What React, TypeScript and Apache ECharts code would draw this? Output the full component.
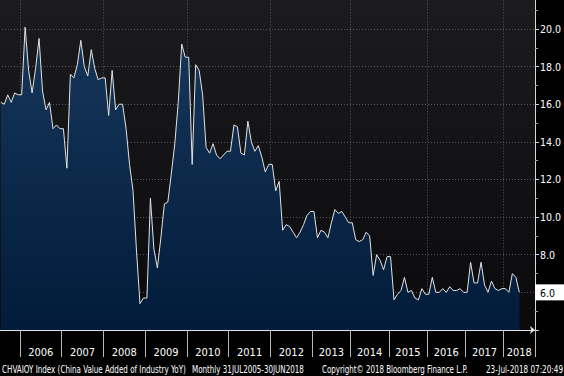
import React, { useEffect, useRef } from 'react';
import * as echarts from 'echarts';

// CHVAIOY Index, monthly YoY %
const v2005 = [16.1, 16.0, 16.5, 16.1, 16.6, 16.5]; // Jul-Dec
const v2006 = [16.5, 20.1, 17.8, 16.6, 17.9, 19.5, 16.7, 15.7, 16.1, 14.7, 14.9, 14.7];
const v2007 = [14.7, 12.6, 17.6, 17.4, 18.1, 19.4, 18.0, 17.5, 18.9, 17.9, 17.3, 17.4];
const v2008 = [17.4, 15.4, 17.8, 15.7, 16.0, 16.0, 14.7, 12.8, 11.4, 8.2, 5.4, 5.7];
const v2009 = [5.7, 11.0, 8.3, 7.3, 8.9, 10.7, 10.8, 12.3, 13.9, 16.1, 19.2, 18.5];
const v2010 = [18.5, 12.8, 18.1, 17.8, 16.5, 13.7, 13.4, 13.9, 13.3, 13.1, 13.3, 13.5];
const v2011 = [13.5, 14.9, 14.8, 13.4, 13.3, 15.1, 14.0, 13.5, 13.8, 13.2, 12.4, 12.8];
const v2012 = [12.8, 11.4, 11.9, 9.3, 9.6, 9.5, 9.2, 8.9, 9.2, 9.6, 10.1, 10.3];
const v2013 = [10.3, 8.9, 9.3, 9.2, 8.9, 9.7, 10.4, 10.2, 10.3, 10.0, 9.7]; // Feb-Dec
const v2014 = [9.7, 8.8, 8.7, 8.8, 9.2, 9.0, 6.9, 8.0, 7.7, 7.2, 7.9];
const v2015 = [7.9, 5.6, 5.9, 6.1, 6.8, 6.0, 6.1, 5.7, 5.6, 6.2, 5.9];
const v2016 = [5.9, 6.8, 6.0, 6.0, 6.2, 6.0, 6.3, 6.1, 6.1, 6.2, 6.0];
const v2017 = [6.0, 7.6, 6.5, 6.5, 7.6, 6.4, 6.0, 6.6, 6.2, 6.1, 6.2];
const v2018 = [6.2, 6.0, 7.0, 6.8, 6.0]; // Feb-Jun

const blocks = [
  { year: 2005, first: 7, values: v2005 },
  { year: 2006, first: 1, values: v2006 },
  { year: 2007, first: 1, values: v2007 },
  { year: 2008, first: 1, values: v2008 },
  { year: 2009, first: 1, values: v2009 },
  { year: 2010, first: 1, values: v2010 },
  { year: 2011, first: 1, values: v2011 },
  { year: 2012, first: 1, values: v2012 },
  { year: 2013, first: 2, values: v2013 },
  { year: 2014, first: 2, values: v2014 },
  { year: 2015, first: 2, values: v2015 },
  { year: 2016, first: 2, values: v2016 },
  { year: 2017, first: 2, values: v2017 },
  { year: 2018, first: 2, values: v2018 },
];
const trailingMonths = ['2018-07', '2018-08', '2018-09', '2018-10']; // empty axis room after last obs
const gridYears = [2006, 2008, 2010, 2012, 2014, 2016, 2018];

const footerTexts = [
  { text: 'CHVAIOY Index (China Value Added of Industry YoY)', x: 2, w: 184 },
  { text: 'Monthly 31JUL2005-30JUN2018', x: 192, w: 112 },
  { text: 'Copyright\u00A9 2018 Bloomberg Finance L.P.', x: 322, w: 146 },
  { text: '23-Jul-2018 07:20:49', x: 486, w: 77 },
];

const FONT = '"Liberation Sans Narrow", "Arial Narrow", "DejaVu Sans Condensed", sans-serif';

// the chart div is shifted up/left a little so the plot can start just outside the page
const OFF_X = 3;
const OFF_Y = 10;

function measure(text: string, font: string): number {
  const ctx = document.createElement('canvas').getContext('2d');
  if (!ctx) return text.length * 5;
  ctx.font = font;
  return ctx.measureText(text).width;
}

export default function App() {
  const ref = useRef<HTMLDivElement>(null);

  useEffect(() => {
    if (!ref.current) return;
    const chart = echarts.init(ref.current, undefined, { renderer: 'svg' });

    const categories: string[] = [];
    const data: (number | null)[] = [];
    const yearStart = new Map<number, number>();
    const labelIdx = new Map<number, string>();
    blocks.forEach((b) => {
      yearStart.set(b.year, categories.length);
      b.values.forEach((v, k) => {
        const m = b.first + k;
        categories.push(`${b.year}-${String(m).padStart(2, '0')}`);
        data.push(v);
      });
      if (b.year >= 2006) {
        const base = yearStart.get(b.year)!;
        const julIdx = base + (7 - b.first);
        const idx = julIdx < categories.length ? julIdx : categories.length - 1;
        labelIdx.set(idx, b.values.length === 12 ? `{s|${b.year}}` : `{n|${b.year}}`);
      }
    });
    trailingMonths.forEach((m) => {
      categories.push(m);
      data.push(null);
    });
    const lastValue = v2018[v2018.length - 1];

    const tickSet = new Set<number>();
    const splitSet = new Set<number>();
    blocks.forEach((b) => {
      if (b.year < 2006) return;
      const i = yearStart.get(b.year)!;
      tickSet.add(i);
      if (gridYears.includes(b.year)) splitSet.add(i);
    });

    const footerFont = `10.5px ${FONT}`;
    const graphics = footerTexts.map((f) => {
      const w = measure(f.text, footerFont);
      return {
        type: 'text',
        x: f.x + OFF_X,
        y: 369 + OFF_Y,
        scaleX: f.w / w,
        style: {
          text: f.text,
          font: footerFont,
          fill: '#ffffff',
          align: 'left',
          verticalAlign: 'middle',
        },
      };
    });

    const option: any = {
      animation: false,
      backgroundColor: '#000000',
      grid: {
        left: OFF_X - 0.961,
        right: 22.57,
        top: OFF_Y - 8.65,
        bottom: 46,
        show: true,
        borderWidth: 0,
        backgroundColor: new echarts.graphic.LinearGradient(0, 0, 0, 1, [
          { offset: 0, color: '#1c1c1e' },
          { offset: 1, color: '#0a0a0c' },
        ]),
      },
      xAxis: {
        type: 'category',
        data: categories,
        boundaryGap: true,
        axisLine: {
          show: true,
          lineStyle: { color: '#e6e6e6', width: 1 },
          symbol: ['none', 'arrow'],
          symbolSize: [6, 5],
        },
        axisTick: {
          show: true,
          length: 27,
          interval: (i: number) => tickSet.has(i),
          lineStyle: { color: '#b8b8b8', width: 1 },
        },
        axisLabel: {
          show: true,
          interval: (i: number) => labelIdx.has(i),
          formatter: (_v: string, i: number) => labelIdx.get(i) || '',
          margin: 17,
          color: '#ffffff',
          fontFamily: FONT,
          fontSize: 11,
          rich: {
            s: { padding: [0, 3.5, 0, 0], color: '#ffffff', fontFamily: FONT, fontSize: 11 },
            n: { color: '#ffffff', fontFamily: FONT, fontSize: 11 },
          },
        },
        splitLine: {
          show: true,
          interval: (i: number) => splitSet.has(i),
          lineStyle: { color: '#55595f', type: [1, 2], width: 1 },
        },
      },
      yAxis: {
        type: 'value',
        position: 'right',
        min: 4,
        max: 22,
        interval: 2,
        axisLine: { show: true, lineStyle: { color: '#d6d6d6', width: 1 } },
        axisTick: { show: true, length: 4, lineStyle: { color: '#d6d6d6' } },
        minorTick: { show: true, splitNumber: 2, length: 3, lineStyle: { color: '#a0a0a0' } },
        axisLabel: {
          color: '#ffffff',
          fontFamily: FONT,
          fontSize: 10.5,
          margin: 5,
          formatter: (v: number) => (v === 4 || v === 6 || v === 22 ? '' : v.toFixed(1)),
        },
        splitLine: { show: true, lineStyle: { color: '#5a5a5e', type: [1, 2], width: 1 } },
        axisPointer: {
          show: true,
          type: 'line',
          value: lastValue,
          status: 'show',
          snap: false,
          triggerTooltip: false,
          lineStyle: { opacity: 0, width: 0 },
          label: {
            show: true,
            precision: 1,
            backgroundColor: '#ffffff',
            color: '#000000',
            fontFamily: FONT,
            fontSize: 10.5,
            padding: [3, 9, 2, 5],
            margin: 5,
            borderRadius: 0,
          },
        },
      },
      series: [
        {
          type: 'line',
          data,
          symbol: 'none',
          connectNulls: false,
          lineStyle: { color: '#e2e2e2', width: 1 },
          areaStyle: {
            origin: 'start',
            color: new echarts.graphic.LinearGradient(0, 0, 0, 1, [
              { offset: 0, color: '#16375b' },
              { offset: 1, color: '#021b3a' },
            ]),
            opacity: 1,
          },
        },
      ],
      graphic: graphics,
    };

    chart.setOption(option);
    return () => chart.dispose();
  }, []);

  return (
    <div
      ref={ref}
      style={{
        position: 'fixed',
        left: -OFF_X,
        top: -OFF_Y,
        width: 564 + OFF_X,
        height: 376 + OFF_Y,
        background: '#000',
      }}
    />
  );
}
